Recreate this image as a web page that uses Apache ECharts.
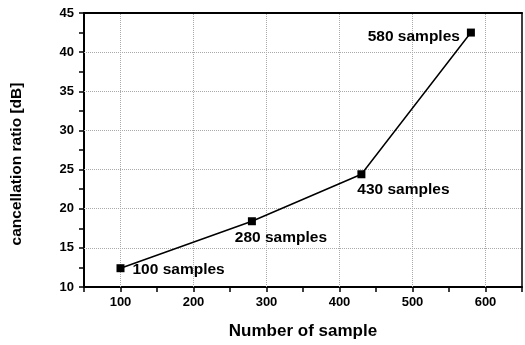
<!DOCTYPE html>
<html><head><meta charset="utf-8">
<script src="https://cdn.jsdelivr.net/npm/echarts@6/dist/echarts.min.js"></script>
<style>html,body{margin:0;padding:0;background:#fff}#c{width:525px;height:345px}</style>
</head><body><div id="c"></div>
<script>
var samples = [100, 280, 430, 580];
var ratios = [12.4, 18.4, 24.4, 42.5];
var labels = ['100 samples', '280 samples', '430 samples', '580 samples'];
var xTicks = [100, 200, 300, 400, 500, 600];
var yTicks = [10, 15, 20, 25, 30, 35, 40, 45];

var F = 'Liberation Sans, Arial, sans-serif';
var labelCfg = [
  {position: 'right', distance: 8, offset: [0, 2]},
  {position: 'bottom', distance: 4, offset: [29, 0]},
  {position: 'bottom', distance: 3, offset: [42, 0]},
  {position: 'left', distance: 7, offset: [0, 4]}
];
var data = samples.map(function (s, i) {
  return {value: [s, ratios[i]], label: Object.assign({show: true, formatter: labels[i]}, labelCfg[i])};
});

var chart = echarts.init(document.getElementById('c'));
chart.setOption({
  animation: false,
  grid: {left: 84, top: 13, right: 1, bottom: 57, show: false},
  xAxis: [{
    type: 'value', min: 50, max: 650, interval: 50,
    name: 'Number of sample', nameLocation: 'middle', nameGap: 36,
    nameTextStyle: {fontFamily: F, fontSize: 17, fontWeight: 'bold', color: '#000'},
    axisLine: {show: true, lineStyle: {color: '#000', width: 2}},
    axisTick: {show: true, inside: false, length: 5, lineStyle: {color: '#000', width: 1.5}},
    axisLabel: {fontFamily: F, fontSize: 13, fontWeight: 'bold', color: '#000', margin: 9,
      formatter: function (v) { return xTicks.indexOf(v) >= 0 ? String(v) : ''; }},
    splitLine: {show: false}
  }, {
    type: 'value', min: 50, max: 650, position: 'top',
    axisLine: {show: true, lineStyle: {color: '#000', width: 2}},
    axisTick: {show: false}, axisLabel: {show: false}, splitLine: {show: false}
  }],
  yAxis: [{
    type: 'value', min: 10, max: 45, interval: 2.5,
    name: 'cancellation ratio [dB]', nameLocation: 'middle', nameGap: 59, nameRotate: 90,
    nameTextStyle: {fontFamily: F, fontSize: 15.5, fontWeight: 'bold', color: '#000', padding: [0, 28, 0, 0]},
    axisLine: {show: true, lineStyle: {color: '#000', width: 2}},
    axisTick: {show: true, inside: false, length: 5, lineStyle: {color: '#000', width: 1.5}},
    axisLabel: {fontFamily: F, fontSize: 13, fontWeight: 'bold', color: '#000', margin: 10,
      formatter: function (v) { return yTicks.indexOf(v) >= 0 ? String(v) : ''; }},
    splitLine: {show: false}
  }, {
    type: 'value', min: 10, max: 45, position: 'right',
    axisLine: {show: true, lineStyle: {color: '#000', width: 1.5}},
    axisTick: {show: false}, axisLabel: {show: false}, splitLine: {show: false}
  }],
  series: [{
    type: 'line',
    data: data,
    symbol: 'rect', symbolSize: 8,
    lineStyle: {color: '#000', width: 1.5},
    itemStyle: {color: '#000'},
    label: {fontFamily: F, fontSize: 15.5, fontWeight: 'bold', color: '#000'},
    z: 5,
    markLine: {
      silent: true, symbol: 'none', label: {show: false}, z: 1,
      lineStyle: {color: '#aaa', width: 1, type: 'dotted'},
      data: yTicks.slice(1, -1).map(function (v) { return {yAxis: v}; })
        .concat(xTicks.map(function (v) { return {xAxis: v}; }))
    }
  }]
});
</script></body></html>
